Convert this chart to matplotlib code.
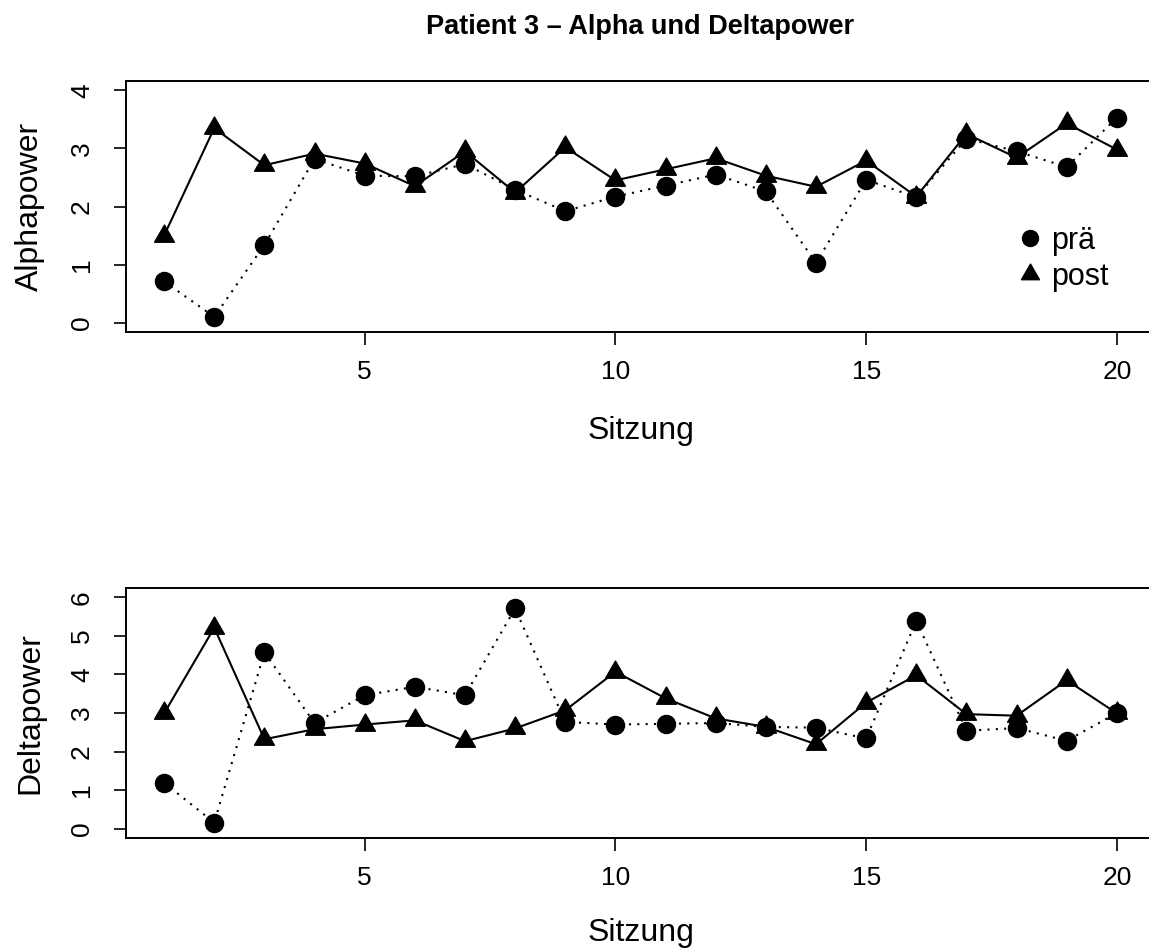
import numpy as np
import matplotlib.pyplot as plt
from matplotlib.lines import Line2D
from matplotlib.path import Path

plt.rcParams['font.family'] = ['Liberation Sans', 'DejaVu Sans']

sitzung = list(range(1, 21))
alpha_pre = [0.71, 0.10, 1.34, 2.82, 2.53, 2.52, 2.73, 2.29, 1.92, 2.17,
             2.36, 2.55, 2.26, 1.03, 2.46, 2.16, 3.17, 2.95, 2.68, 3.53]
alpha_post = [1.50, 3.35, 2.71, 2.91, 2.74, 2.35, 2.95, 2.24, 3.02, 2.45,
              2.64, 2.83, 2.53, 2.34, 2.79, 2.17, 3.25, 2.84, 3.43, 2.98]
delta_pre = [1.19, 0.16, 4.57, 2.74, 3.46, 3.68, 3.46, 5.71, 2.77, 2.70,
             2.72, 2.74, 2.64, 2.62, 2.34, 5.39, 2.54, 2.61, 2.28, 3.00]
delta_post = [2.99, 5.21, 2.32, 2.58, 2.70, 2.81, 2.27, 2.60, 3.07, 4.07,
              3.38, 2.86, 2.64, 2.19, 3.27, 3.98, 2.97, 2.93, 3.85, 2.99]

# triangle with its centroid on the data point (like R's pch 17)
tri = Path([(0, 1), (-0.866, -0.5), (0.866, -0.5), (0, 1)],
           [Path.MOVETO, Path.LINETO, Path.LINETO, Path.CLOSEPOLY])

W, H = 1149, 949
fig = plt.figure(figsize=(W / 100, H / 100), dpi=100)
left, right = 126, 1155
ax1 = fig.add_axes([left / W, 1 - 332 / H, (right - left) / W, (332 - 81) / H])
ax2 = fig.add_axes([left / W, 1 - 838 / H, (right - left) / W, (838 - 588) / H])


def panel(ax, pre, post, ylabel, ylim, yticks, xpad):
    ax.plot(sitzung, post, color='black', lw=1.5, marker=tri, ms=16.5,
            label='post')
    ax.plot(sitzung, pre, color='black', lw=1.5, ls=(0, (1, 3)), marker='o',
            ms=13, label='prä')
    ax.set_xlim(0.24, 20.76)
    ax.set_ylim(*ylim)
    ax.set_xticks([5, 10, 15, 20])
    ax.set_yticks(yticks)
    ax.set_yticklabels([str(t) for t in yticks], rotation=90, va='center')
    ax.tick_params(length=9, width=1.2, labelsize=19)
    ax.tick_params(axis='x', pad=11)
    ax.tick_params(axis='y', pad=14)
    for s in ax.spines.values():
        s.set_linewidth(1.4)
    ax.set_xlabel('Sitzung', fontsize=23, labelpad=xpad)
    ax.set_ylabel(ylabel, fontsize=23, labelpad=18)


panel(ax1, alpha_pre, alpha_post, 'Alphapower', (-0.16, 4.16), [0, 1, 2, 3, 4], 23.5)
panel(ax2, delta_pre, delta_post, 'Deltapower', (-0.24, 6.24),
      [0, 1, 2, 3, 4, 5, 6], 20)

ax1.set_title('Patient 3 – Alpha und Deltapower', fontsize=19.5,
              fontweight='bold', pad=34)

handles = [Line2D([], [], color='black', marker='o', ls='none', ms=11.5),
           Line2D([], [], color='black', marker=tri, ls='none', ms=15)]
ax1.legend(handles, ['prä', 'post'], loc='center left', frameon=False,
           bbox_to_anchor=(1022 / W, 1 - 259 / H), bbox_transform=fig.transFigure,
           fontsize=22, handlelength=0.55, handletextpad=0.4, labelspacing=0.2,
           borderpad=0, borderaxespad=0)

fig.savefig('out.png', dpi=100)
